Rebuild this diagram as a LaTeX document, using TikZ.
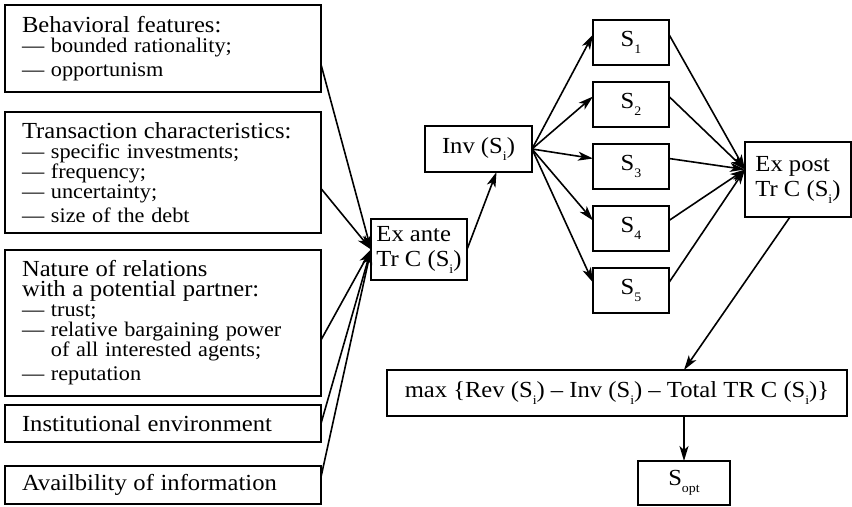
\documentclass[tikz,border=0pt]{standalone}
\usepackage{fontspec}
\setmainfont[FakeStretch=1.07]{Liberation Serif}
\usepackage{tikz}
\usetikzlibrary{positioning}
\usetikzlibrary{arrows.meta}
\newcommand{\headfont}{\fontsize{11.5}{10}\selectfont\lineskiplimit=-20pt\relax}
\newcommand{\itemfont}{\fontsize{10.4}{10}\selectfont\lineskiplimit=-20pt\relax}
\newcommand{\stagefont}{\fontsize{11.5}{12.5}\selectfont\lineskiplimit=-20pt\relax}
\newcommand{\lowsub}[1]{\raisebox{-3.5pt}{\fontsize{6.5}{6.5}\selectfont #1}}
\tikzset{
  factor/.style={draw, line width=1pt, outer sep=0pt, text width=141pt,
    inner xsep=8.5pt, inner ysep=2pt, align=left},
  stage/.style={draw, line width=1pt, outer sep=0pt, inner sep=2pt, align=left,
    font=\stagefont},
  sbox/.style={stage, minimum width=38pt, minimum height=22.5pt},
  link/.style={-{Stealth[length=7.5pt,width=4.5pt,inset=2pt]}, line width=0.8pt}
}

\begin{document}
\begin{tikzpicture}
  \useasboundingbox (0,0) rectangle (426pt,-253.5pt);
  \node[factor, minimum height=43.5pt, anchor=north west] (beh) at (2.5pt,-2.5pt)
    {\headfont Behavioral features:\\ \itemfont --- bounded rationality;\\ --- opportunism};
  \node[factor, minimum height=60.5pt, below=10pt of beh] (trans)
    {\headfont Transaction characteristics:\\ \itemfont --- specific investments;\\
     --- frequency;\\ --- uncertainty;\\ --- size of the debt};
  \node[factor, minimum height=73pt, below=8.5pt of trans] (rel)
    {\headfont Nature of relations\\ with a potential partner:\\ \itemfont --- trust;\\
     --- relative bargaining power\\ \phantom{---}\ of all interested agents;\\ --- reputation};
  \node[factor, minimum height=18.5pt, below=4.5pt of rel] (inst)
    {\headfont Institutional environment};
  \node[factor, minimum height=19pt, below=12pt of inst] (info)
    {\headfont Availbility of information};

  \node[stage, minimum width=48pt, minimum height=30.5pt] (exante) at (209.5pt,-124.75pt)
    {Ex ante\\ Tr C (S\lowsub{i})};
  \node[stage, minimum width=53.5pt, minimum height=23pt] (inv) at (239.25pt,-74.5pt)
    {Inv (S\lowsub{i})};
  \node[sbox] (s1) at (315.5pt,-21.25pt) {S\lowsub{1}};
  \foreach \i [remember=\i as \prev (initially 1)] in {2,...,5}
    \node[sbox, below=8.5pt of s\prev] (s\i) {S\lowsub{\i}};
  \node[stage, minimum width=53pt, minimum height=37.5pt] (expost) at (399pt,-89.75pt)
    {Ex post\\ Tr C (S\lowsub{i})};
  \node[stage, minimum width=230pt, minimum height=23pt] (profit) at (308.5pt,-196.5pt)
    {max \{Rev (S\lowsub{i}) -- Inv (S\lowsub{i}) -- Total TR C (S\lowsub{i})\}};
  \node[stage, minimum width=46pt, minimum height=22pt] (sopt) at (342pt,-241.5pt)
    {S\lowsub{opt}};

  \foreach \f/\dy in {beh/-8,trans/-8,rel/-8.5,inst/0,info/4}
    \draw[link] ([yshift=\dy pt]\f.east) -- (exante.west);
  \draw[link] (exante.east) -- ([xshift=9pt]inv.south);
  \foreach \i in {1,...,5} {
    \draw[link] (inv.east) -- ([yshift=4pt]s\i.west);
    \draw[link] ([yshift=4pt]s\i.east) -- ([yshift=5pt]expost.west);
  }
  \draw[link] ([xshift=-4pt]expost.south) -- (profit.north -| sopt.north);
  \draw[link] (profit.south -| sopt.north) -- (sopt.north);
\end{tikzpicture}
\end{document}
